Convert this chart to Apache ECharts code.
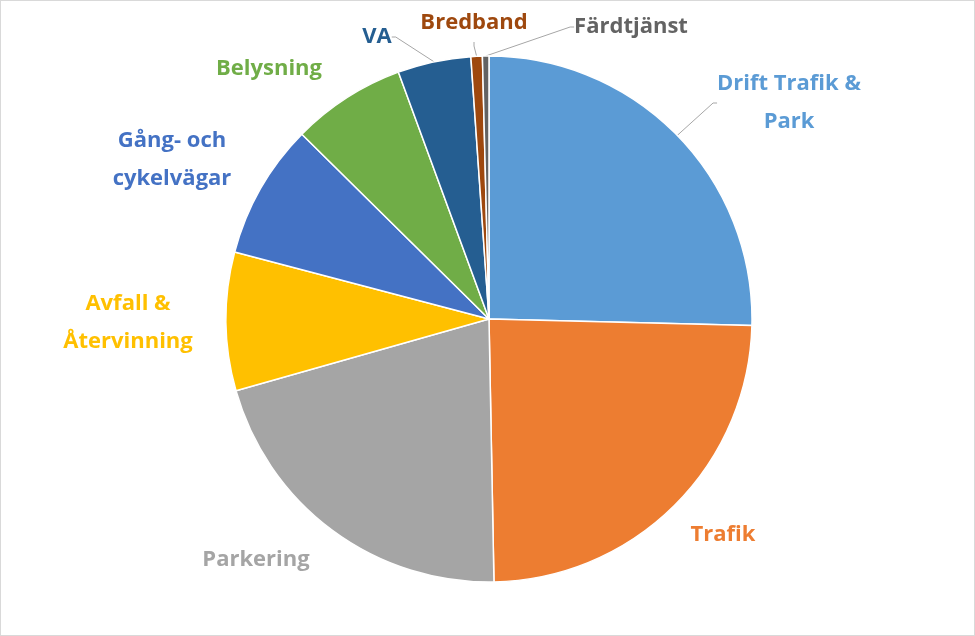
<!DOCTYPE html>
<html><head><meta charset="utf-8">
<script src="https://cdn.jsdelivr.net/npm/echarts@6/dist/echarts.min.js"></script>
<style>html,body{margin:0;padding:0;background:#fff}#c{width:973px;height:634px;border:1px solid #d9d9d9}</style>
</head><body><div id="c"></div>
<script>
const categories=["Drift Trafik &\nPark","Trafik","Parkering","Avfall &\nÅtervinning","Gång- och\ncykelvägar","Belysning","VA","Bredband","Färdtjänst"];
const values=[25.4,24.3,20.9,8.5,8.3,7.0,4.5,0.7,0.4];
const colors=["#5B9BD5","#ED7D31","#A5A5A5","#FFC000","#4472C4","#70AD47","#255E91","#9E480E","#636363"];
const labelPos=[[788,102],[722,534],[255,559],[127,322],[171,159],[268,68],[376,36],[473,22],[630,26]];
const showLine=[true,false,false,false,false,false,true,true,true];
const chart=echarts.init(document.getElementById('c'));
chart.setOption({
  animation:false,
  series:[{
    type:'pie',center:[488,318],radius:[0,263],startAngle:90,clockwise:true,
    data:categories.map((n,i)=>({name:n,value:values[i],itemStyle:{color:colors[i]},
      label:{color:colors[i]},labelLine:{show:showLine[i],lineStyle:{color:'#a6a6a6',width:1}}})),
    itemStyle:{borderColor:'#fff',borderWidth:1.5},
    label:{show:true,position:'outside',formatter:'{b}',fontFamily:'Open Sans',fontWeight:'bold',fontSize:22,lineHeight:38,align:'center'},
    labelLine:{length:8,length2:4,smooth:false},
    labelLayout:function(p){const pt=labelPos[p.dataIndex];return {x:pt[0],y:pt[1],align:'center',verticalAlign:'middle'};}
  }]
});
</script></body></html>
